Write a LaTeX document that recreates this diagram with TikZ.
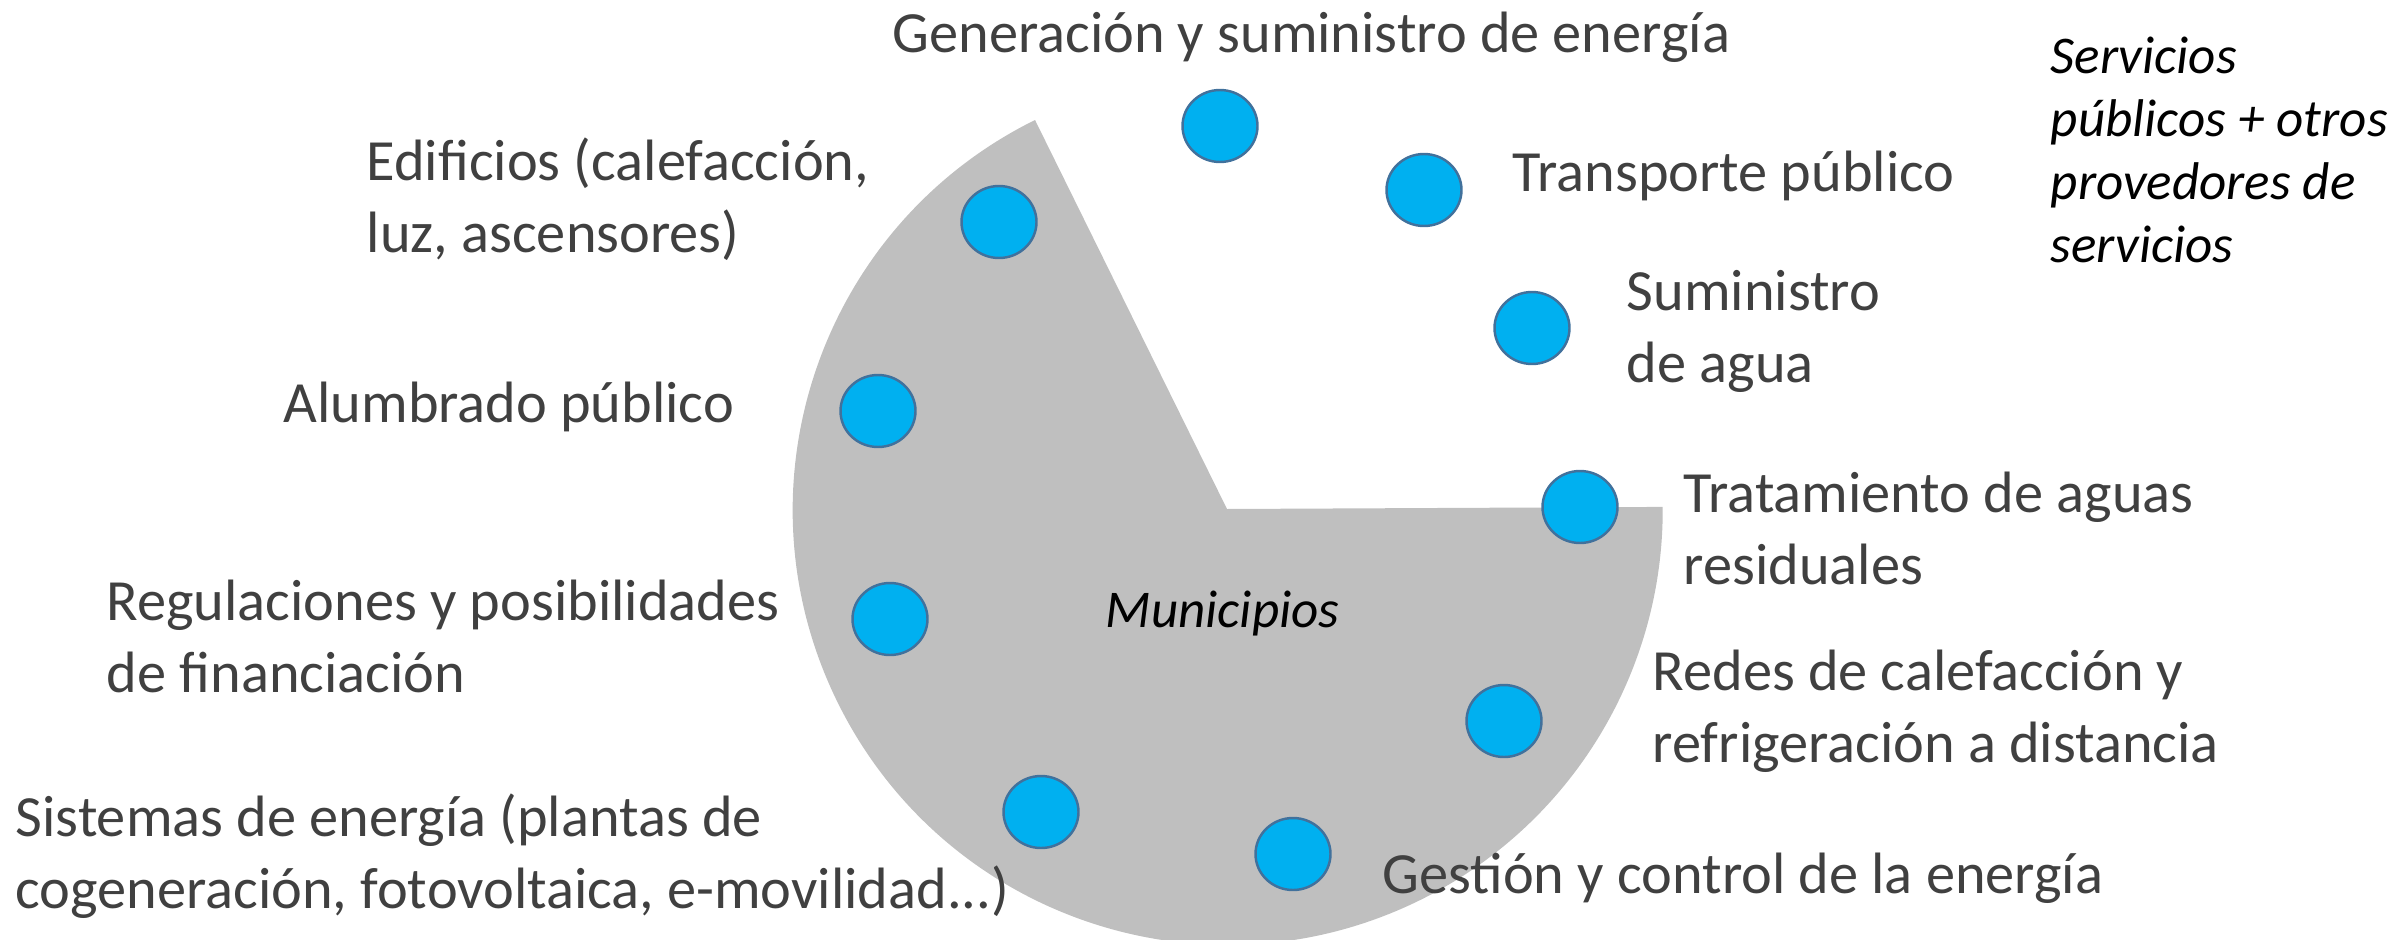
\documentclass[tikz,border=0pt]{standalone}
\usepackage{fontspec}
\setmainfont{Carlito}
\usetikzlibrary{shapes.geometric}
\definecolor{piegray}{HTML}{BFBFBF}
\definecolor{dotfill}{HTML}{00B0F0}
\definecolor{dotline}{HTML}{41719C}
\definecolor{txt}{HTML}{404040}
\begin{document}
\begin{tikzpicture}[x=0.1mm,y=-0.1mm,
  dot/.style={ellipse,draw=dotline,fill=dotfill,line width=0.7pt,minimum width=7.5mm,minimum height=7.2mm,inner sep=0pt},
  lbl/.style={anchor=west,inner sep=0pt,text=txt,align=left,font=\fontsize{16.6pt}{20.5pt}\selectfont},
  itl/.style={anchor=west,inner sep=0pt,text=black,align=left,font=\fontsize{15.1pt}{18pt}\selectfont\itshape}]
\useasboundingbox (0,0) rectangle (2399,940);
% pie
\coordinate (pc) at (1227,509);
\fill[piegray] (pc) -- (1035,120) arc[start angle=-116.3,end angle=-360.4,radius=435] -- cycle;
% dots
\node[dot] (d1) at (1220,126) {};
\node[dot] (d2) at (1424,190) {};
\node[dot] (d3) at (1532,328) {};
\node[dot] (d4) at (1580,507) {};
\node[dot] (d5) at (1504,721) {};
\node[dot] (d6) at (1293,854) {};
\node[dot] (d7) at (1041,812) {};
\node[dot] (d8) at (890,619) {};
\node[dot] (d9) at (878,411) {};
\node[dot] (d10) at (999,222) {};
% labels
\node[lbl] (t1) at (892,37) {Generación y suministro de energía};
\node[lbl] (t2) at (1512,176) {Transporte público};
\node[lbl] (t3) at (1626,331) {Suministro\\de agua};
\node[lbl] (t4) at (1683,528) {Tratamiento de aguas\\residuales};
\node[lbl] (t5) at (1652,711) {Redes de calefacción y\\refrigeración a distancia};
\node[lbl] (t6) at (1382,878) {Gestión y control de la energía};
\node[lbl] (t7) at (15,856) {Sistemas de energía (plantas de\\cogeneración, fotovoltaica, e-movilidad...)};
\node[lbl] (t8) at (106,636) {Regulaciones y posibilidades\\de financiación};
\node[lbl] (t9) at (283,407) {Alumbrado público};
\node[lbl] (t10) at (366,199) {Edificios (calefacción,\\luz, ascensores)};
\node[itl] (m) at (1105,614) {Municipios};
\node[itl] (s) at (2050,150) {Servicios\\públicos + otros\\provedores de\\servicios};
\end{tikzpicture}
\end{document}
